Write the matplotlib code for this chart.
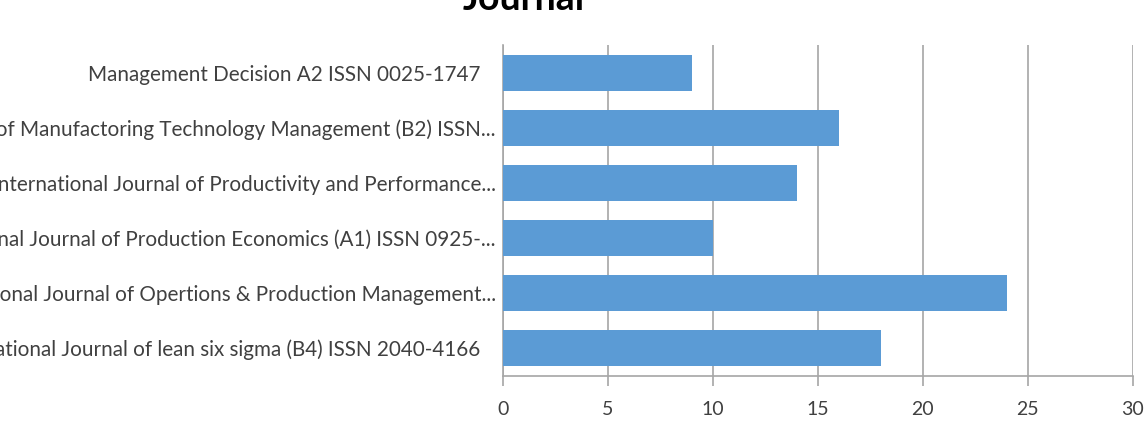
import matplotlib
matplotlib.use("Agg")
import matplotlib.pyplot as plt
from matplotlib.transforms import ScaledTranslation

title = "Journal"
journals = [
    "Management Decision A2 ISSN 0025-1747",
    "Journal of Manufactoring Technology Management (B2) ISSN...",
    "International Journal of Productivity and Performance...",
    "International Journal of Production Economics (A1) ISSN 0925-...",
    "International Journal of Opertions & Production Management...",
    "International Journal of lean six sigma (B4) ISSN 2040-4166",
]
counts = [9, 16, 14, 10, 24, 18]
xticks = [0, 5, 10, 15, 20, 25, 30]

plt.rcParams['font.family'] = ['Lato', 'DejaVu Sans']

fig = plt.figure(figsize=(11.45, 4.26), dpi=100)
ax = fig.add_axes([0.439, 0.1185, 0.5504, 0.7747])

pos = list(range(len(journals)))
ax.barh(pos, counts, height=0.65, color='#5B9BD5', zorder=3)
ax.set_ylim(len(journals) - 0.5, -0.5)
ax.set_xlim(0, 30)
ax.set_xticks(xticks)
ax.set_xticklabels([str(t) for t in xticks])
ax.set_yticks(pos)
ax.set_yticklabels(journals)
ax.grid(axis='x', color='#A6A6A6', linewidth=1.2, zorder=0)
for s in ['top', 'right']:
    ax.spines[s].set_visible(False)
for s in ['left', 'bottom']:
    ax.spines[s].set_color('#A6A6A6')
    ax.spines[s].set_linewidth(1.2)
ax.tick_params(axis='x', length=7, width=1.2, color='#A6A6A6', pad=11,
               labelsize=14, labelcolor='#404040')
ax.tick_params(axis='y', length=0, pad=5, labelsize=14.9, labelcolor='#404040')

for lab in ax.get_yticklabels():
    if not lab.get_text().endswith('...'):
        lab.set_transform(lab.get_transform() +
                          ScaledTranslation(-15 / 100, 0, fig.dpi_scale_trans))

fig.text(0.404, 0.9765, title, ha='left', va='baseline', fontsize=27,
         fontweight='bold', color='#000000')

fig.savefig('out.png', dpi=100, facecolor='white')
